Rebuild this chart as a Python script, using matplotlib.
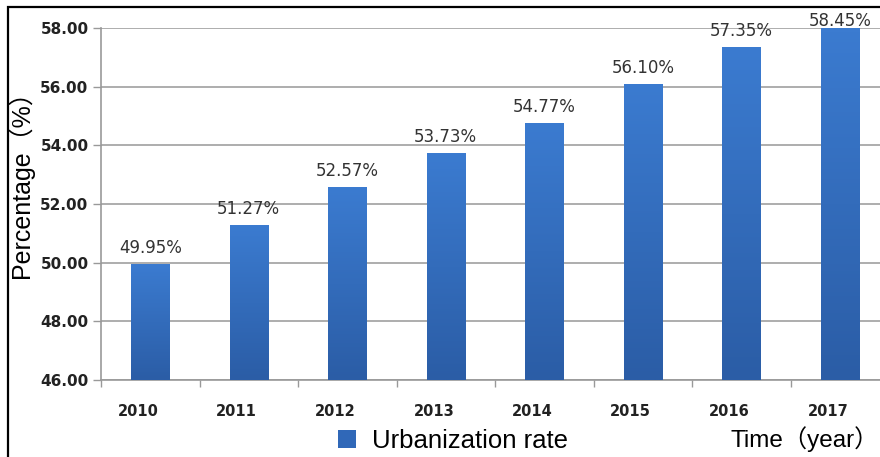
import numpy as np
import matplotlib
matplotlib.use("Agg")
import matplotlib.pyplot as plt
import matplotlib.transforms as mtrans
from matplotlib.patches import Patch, Rectangle
from matplotlib.colors import LinearSegmentedColormap

years = ["2010", "2011", "2012", "2013", "2014", "2015", "2016", "2017"]
rate = [49.95, 51.27, 52.57, 53.73, 54.77, 56.10, 57.35, 58.45]
yticks = [46, 48, 50, 52, 54, 56, 58]

ymin, ymax = 46, 58
cjk = ["Liberation Sans", "Noto Sans CJK SC", "DejaVu Sans"]

fig = plt.figure(figsize=(8.8, 4.57), dpi=100)
ax = fig.add_axes([101 / 880, 1 - 380 / 457, 788 / 880, 352 / 457])

# vertical gradient for the bars: lighter on top, darker at the base
grad = LinearSegmentedColormap.from_list("bluegrad", ["#2b5da6", "#3b7bd0"])
x = np.arange(len(years))
w = 0.39
bars = ax.bar(x, rate, width=w, color="none", edgecolor="none", zorder=3)
for b, v in zip(bars, rate):
    xl = b.get_x()
    im = ax.imshow(np.linspace(0, 1, 100).reshape(-1, 1), cmap=grad, origin="lower",
                   extent=(xl, xl + w, ymin, min(v, ymax)), aspect="auto", zorder=3)
    im.set_clip_path(b)

for xi, v in zip(x, rate):
    ax.annotate(f"{v:.2f}%", (xi, min(v, ymax - 0.3)), xytext=(0, 5),
                textcoords="offset points", ha="center", va="bottom",
                fontsize=12, color="#333333", family="DejaVu Sans", zorder=5)

ax.set_xlim(-0.5, len(years) - 0.5)
ax.set_ylim(ymin, ymax)

ax.set_yticks(yticks)
ax.set_yticklabels([f"{t:.2f}" for t in yticks])
ax.tick_params(axis="y", length=6, width=1, color="#999999", pad=3,
               labelsize=11, labelcolor="#222222")
for lab in ax.get_yticklabels():
    lab.set_fontweight("bold")

ax.set_xticks(x)
ax.set_xticklabels(years)
ax.set_xticks(np.arange(-0.5, len(years)), minor=True)
ax.tick_params(axis="x", which="major", length=0, pad=17, labelsize=10.5,
               labelcolor="#222222")
ax.tick_params(axis="x", which="minor", length=5, width=1, color="#999999")
shift = mtrans.ScaledTranslation(-12 / 100, 0, fig.dpi_scale_trans)
for lab in ax.get_xticklabels():
    lab.set_fontweight("bold")
    lab.set_transform(lab.get_transform() + shift)

ax.grid(axis="y", color="#a0a0a0", lw=1.2, zorder=0)
ax.set_axisbelow(True)
for s in ["top", "right"]:
    ax.spines[s].set_visible(False)
for s in ["left", "bottom"]:
    ax.spines[s].set_color("#999999")
    ax.spines[s].set_linewidth(1.2)

fig.text(21 / 880, 1 - 178 / 457, "Percentage（%）", rotation=90, ha="center",
         va="center", fontsize=18, family=cjk, color="black")
fig.text(879 / 880, 1 - 439 / 457, "Time（year）", ha="right", va="center",
         fontsize=17.5, family=cjk, color="black")

fig.legend(handles=[Patch(facecolor="#3068b8", edgecolor="none")],
           labels=["Urbanization rate"], loc="center",
           bbox_to_anchor=(453 / 880, 1 - 441 / 457), frameon=False,
           prop={"family": "Liberation Sans", "size": 18.5},
           handlelength=0.7, handleheight=0.7, handletextpad=0.6)

# frame around the whole chart
fig.add_artist(Rectangle((8 / 880, -0.1), 1.2, 1 - 7 / 457 + 0.1,
                         transform=fig.transFigure, fill=False,
                         edgecolor="black", lw=1.6))

fig.savefig("out.png", dpi=100)
